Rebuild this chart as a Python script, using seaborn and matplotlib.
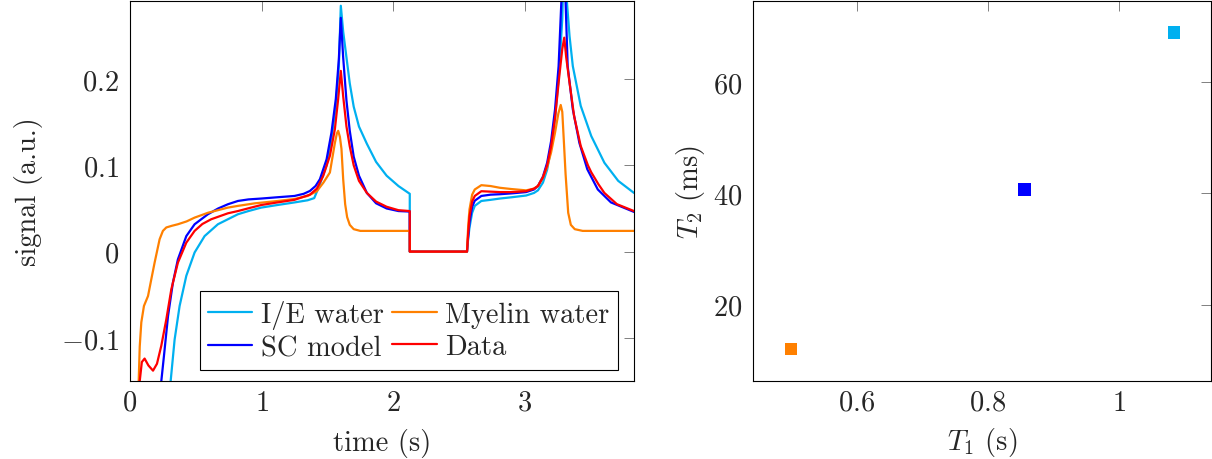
import pandas as pd
import matplotlib
matplotlib.use("Agg")
import matplotlib.pyplot as plt
import seaborn as sns

# curve samples (time in s, signal in a.u.)
ie_t = [0.30, 0.309, 0.339, 0.377, 0.428, 0.491, 0.567, 0.668, 0.744, 0.82, 0.90, 0.997, 1.12,
        1.25, 1.35, 1.40, 1.443, 1.494, 1.531, 1.564, 1.587, 1.602, 1.62, 1.645, 1.67, 1.70,
        1.74, 1.80, 1.87, 1.95, 2.04, 2.126, 2.126, 2.561, 2.57, 2.58, 2.60, 2.62, 2.67, 2.74,
        2.81, 2.90, 3.01, 3.07, 3.10, 3.138, 3.17, 3.20, 3.23, 3.26, 3.285, 3.30, 3.32, 3.34,
        3.365, 3.425, 3.505, 3.605, 3.71, 3.83]
ie_s = [-0.163, -0.15, -0.102, -0.063, -0.028, -0.001, 0.018, 0.0317, 0.0375, 0.0433, 0.047, 0.051, 0.054,
        0.057, 0.0595, 0.062, 0.078, 0.100, 0.130, 0.168, 0.215, 0.285, 0.255, 0.225, 0.195, 0.168,
        0.145, 0.125, 0.104, 0.088, 0.076, 0.067, 0.0, 0.0, 0.015, 0.028, 0.045, 0.053, 0.0587, 0.060,
        0.0615, 0.063, 0.065, 0.068, 0.071, 0.080, 0.095, 0.12, 0.155, 0.205, 0.27, 0.36, 0.29, 0.25,
        0.215, 0.169, 0.134, 0.103, 0.082, 0.068]

sc_t = [0.232, 0.238, 0.258, 0.289, 0.326, 0.364, 0.428, 0.491, 0.592, 0.67, 0.744, 0.82, 0.90,
        0.997, 1.12, 1.25, 1.32, 1.367, 1.41, 1.443, 1.494, 1.531, 1.564, 1.587, 1.602, 1.62,
        1.645, 1.67, 1.70, 1.74, 1.80, 1.87, 1.95, 2.04, 2.126, 2.126, 2.561, 2.57, 2.58, 2.60,
        2.62, 2.67, 2.74, 2.81, 2.90, 3.01, 3.07, 3.10, 3.138, 3.17, 3.20, 3.23, 3.257, 3.278,
        3.297, 3.31, 3.326, 3.365, 3.415, 3.475, 3.555, 3.655, 3.83]
sc_s = [-0.16, -0.15, -0.121, -0.0747, -0.036, -0.009, 0.018, 0.0317, 0.0433, 0.050, 0.0549, 0.0587, 0.0605,
        0.0615, 0.063, 0.0645, 0.067, 0.0703, 0.076, 0.0839, 0.107, 0.138, 0.177, 0.223, 0.271, 0.225,
        0.175, 0.14, 0.11, 0.088, 0.068, 0.056, 0.050, 0.047, 0.0464, 0.0, 0.0, 0.018, 0.034, 0.052,
        0.059, 0.0645, 0.066, 0.0665, 0.0675, 0.069, 0.072, 0.076, 0.087, 0.103, 0.128, 0.165, 0.215, 0.29,
        0.33, 0.29, 0.215, 0.165, 0.126, 0.0955, 0.072, 0.057, 0.046]

my_t = [0.06, 0.066, 0.074, 0.086, 0.106, 0.137, 0.162, 0.187, 0.225, 0.25, 0.276, 0.32, 0.364,
        0.43, 0.491, 0.592, 0.744, 0.82, 0.95, 1.124, 1.25, 1.35, 1.42, 1.47, 1.519, 1.557,
        1.572, 1.582, 1.595, 1.607, 1.62, 1.635, 1.65, 1.67, 1.70, 1.75, 2.126, 2.126, 2.561,
        2.57, 2.58, 2.60, 2.62, 2.67, 2.74, 2.81, 2.90, 3.01, 3.07, 3.10, 3.138, 3.17, 3.20,
        3.23, 3.255, 3.273, 3.285, 3.298, 3.31, 3.33, 3.35, 3.38, 3.44, 3.83]
my_s = [-0.16, -0.15, -0.11, -0.082, -0.063, -0.0515, -0.032, -0.0128, 0.0143, 0.024, 0.028, 0.030, 0.0317,
        0.035, 0.0394, 0.045, 0.051, 0.053, 0.056, 0.0587, 0.061, 0.0645, 0.070, 0.080, 0.0917, 0.126,
        0.137, 0.140, 0.133, 0.119, 0.084, 0.055, 0.040, 0.031, 0.026, 0.024, 0.024, 0.0, 0.0,
        0.030, 0.049, 0.066, 0.072, 0.077, 0.076, 0.074, 0.0725, 0.071, 0.073, 0.076, 0.086, 0.098, 0.115,
        0.138, 0.160, 0.170, 0.162, 0.125, 0.090, 0.045, 0.031, 0.026, 0.024, 0.024]

data_t = [0.062, 0.074, 0.09, 0.111, 0.14, 0.175, 0.205, 0.238, 0.276, 0.314, 0.364, 0.428, 0.491,
          0.55, 0.617, 0.744, 0.82, 0.92, 0.997, 1.12, 1.25, 1.367, 1.42, 1.468, 1.519, 1.557,
          1.582, 1.602, 1.62, 1.645, 1.67, 1.70, 1.74, 1.80, 1.87, 1.95, 2.04, 2.126, 2.126,
          2.561, 2.57, 2.58, 2.60, 2.62, 2.67, 2.74, 2.81, 2.90, 3.01, 3.07, 3.10, 3.138, 3.17,
          3.20, 3.23, 3.26, 3.285, 3.30, 3.315, 3.34, 3.375, 3.425, 3.48, 3.505, 3.56, 3.605,
          3.70, 3.83]
data_s = [-0.16, -0.15, -0.128, -0.124, -0.132, -0.138, -0.13, -0.109, -0.0785, -0.0437, -0.0128, 0.0104, 0.024,
          0.032, 0.0375, 0.0444, 0.047, 0.051, 0.054, 0.057, 0.060, 0.066, 0.073, 0.0877, 0.111, 0.142,
          0.177, 0.2095, 0.18, 0.145, 0.122, 0.10, 0.082, 0.068, 0.058, 0.052, 0.048, 0.047, 0.0,
          0.0, 0.022, 0.041, 0.058, 0.0645, 0.070, 0.0695, 0.069, 0.069, 0.070, 0.073, 0.076, 0.086, 0.10,
          0.122, 0.155, 0.20, 0.235, 0.248, 0.225, 0.196, 0.157, 0.1225, 0.10, 0.092, 0.078, 0.068,
          0.055, 0.047]

series_names = ["I/E water", "SC model", "Myelin water", "Data"]
colors = {"I/E water": "#00b0f0", "SC model": "#0000ff",
          "Myelin water": "#ff8000", "Data": "#ff0000"}

# fitted relaxation times
pools = ["Myelin water", "SC model", "I/E water"]
t1_vals = [0.50, 0.856, 1.084]
t2_vals = [12.0, 40.7, 68.9]

frames = []
for name, t, s in [("I/E water", ie_t, ie_s), ("SC model", sc_t, sc_s),
                   ("Myelin water", my_t, my_s), ("Data", data_t, data_s)]:
    frames.append(pd.DataFrame({"time": t, "signal": s, "series": name}))
curves = pd.concat(frames, ignore_index=True)
relax = pd.DataFrame({"T1": t1_vals, "T2": t2_vals, "pool": pools})

FS = 20.5
sns.set_theme(style="white")
plt.rcParams["font.family"] = ["cmr10", "DejaVu Serif"]
plt.rcParams["mathtext.fontset"] = "cm"
plt.rcParams["axes.formatter.use_mathtext"] = True
plt.rcParams["font.size"] = FS

fig = plt.figure(figsize=(12.12, 4.6), dpi=100)
ax1 = fig.add_axes([130 / 1212, 78 / 460, 504 / 1212, 380 / 460])
ax2 = fig.add_axes([753 / 1212, 78 / 460, 458 / 1212, 380 / 460])

sns.lineplot(data=curves, x="time", y="signal", hue="series", hue_order=series_names,
             palette=colors, estimator=None, sort=False, linewidth=1.6, ax=ax1)
ax1.set_xlim(0, 3.83)
ax1.set_ylim(-0.15, 0.2905)
ax1.set_xticks([0, 1, 2, 3])
ax1.set_xticklabels(["$0$", "$1$", "$2$", "$3$"])
ax1.set_yticks([-0.1, 0, 0.1, 0.2])
ax1.set_yticklabels(["$-0.1$", "$0$", "$0.1$", "$0.2$"])
ax1.set_xlabel("time (s)", fontsize=FS, labelpad=9)
ax1.set_ylabel("signal (a.u.)", fontsize=FS, labelpad=13)
ax1.legend(ncol=2, loc="lower right", bbox_to_anchor=(0.968, 0.03), fontsize=FS,
           frameon=True, fancybox=False, edgecolor="black", framealpha=1,
           handlelength=1.55, columnspacing=0.3, handletextpad=0.3, borderpad=0.3,
           labelspacing=0.2, borderaxespad=0)
ax1.get_legend().get_frame().set_linewidth(0.8)

sns.scatterplot(data=relax, x="T1", y="T2", hue="pool", palette=colors, marker="s",
                s=80, linewidth=0, legend=False, ax=ax2)
ax2.set_xlim(0.442, 1.14)
ax2.set_ylim(6.28, 74.6)
ax2.set_xticks([0.6, 0.8, 1.0])
ax2.set_xticklabels(["$0.6$", "$0.8$", "$1$"])
ax2.set_yticks([20, 40, 60])
ax2.set_yticklabels(["$20$", "$40$", "$60$"])
ax2.set_xlabel("$T_1$ (s)", fontsize=FS, labelpad=7)
ax2.set_ylabel("$T_2$ (ms)", fontsize=FS, labelpad=4)

for ax in (ax1, ax2):
    for sp in ax.spines.values():
        sp.set_color("black")
        sp.set_linewidth(0.8)
    ax.tick_params(direction="in", length=7.5, width=0.7, color="#808080",
                   top=True, right=True, labelsize=FS, pad=6)
    ax.tick_params(axis="y", pad=8)

fig.savefig("out.png", dpi=100)
